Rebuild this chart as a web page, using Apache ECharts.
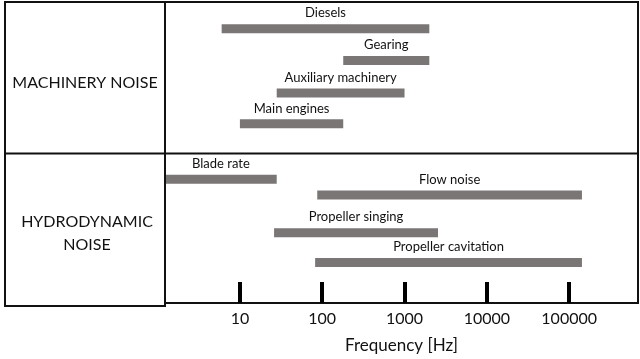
<!DOCTYPE html>
<html><head><meta charset="utf-8">
<script src="https://cdn.jsdelivr.net/npm/echarts@6/dist/echarts.min.js"></script>
<style>html,body{margin:0;padding:0;background:#fff}#c{width:640px;height:359px}</style>
</head><body><div id="c"></div>
<script>
// ---- data ----
const sources = ['Diesels','Gearing','Auxiliary machinery','Main engines','Blade rate','Flow noise','Propeller singing','Propeller cavitation'];
const lowHz  = [6, 180, 28, 10, 1.23, 87, 26, 82];
const highHz = [2000, 2000, 1000, 180, 28, 143000, 2550, 143000];
const rowLane = [1.69, 3.69, 5.75, 7.69, 11.19, 12.19, 14.56, 16.44];
const tickValues = [10, 100, 1000, 10000, 100000];
const groupLabels = ['MACHINERY NOISE', 'HYDRODYNAMIC\nNOISE'];
const axisTitle = 'Frequency [Hz]';

const FONT = 'Lato, "Open Sans", sans-serif';
const chart = echarts.init(document.getElementById('c'), null, {renderer:'canvas'});
const data = sources.map((n,i)=>[lowHz[i], highHz[i], rowLane[i]]);

chart.setOption({
  animation:false,
  grid:{left:165, right:2, top:2, height:304, show:true, borderColor:'#111', borderWidth:2, backgroundColor:'transparent'},
  xAxis:{
    type:'log', min:1.23, max:686000, logBase:10, position:'bottom',
    axisLine:{show:false, onZero:false},
    splitLine:{show:false},
    axisTick:{show:true, inside:true, length:21, lineStyle:{color:'#000', width:4}, customValues:tickValues},
    axisLabel:{customValues:tickValues, fontSize:16, color:'#111', fontFamily:FONT, margin:8, formatter:v=>String(Math.round(v))},
    name:axisTitle, nameLocation:'middle', nameGap:34,
    nameTextStyle:{fontSize:17, color:'#111', fontFamily:FONT}
  },
  yAxis:{type:'value', inverse:true, min:0, max:19, show:false},
  graphic:[
    {type:'rect', shape:{x:5, y:2, width:160, height:304}, style:{fill:'none', stroke:'#111', lineWidth:2}, z:10},
    {type:'line', shape:{x1:5, y1:153.5, x2:638, y2:153.5}, style:{stroke:'#111', lineWidth:2}, z:10},
    {type:'text', style:{text:groupLabels[0], x:85, y:83, align:'center', verticalAlign:'middle', font:'16px '+FONT, fill:'#111'}},
    {type:'text', style:{text:groupLabels[1], x:87, y:233, align:'center', verticalAlign:'middle', font:'16px '+FONT, lineHeight:23, fill:'#111'}}
  ],
  series:[{
    type:'custom',
    clip:false,
    encode:{x:[0,1], y:2},
    data:data,
    renderItem:(params, api)=>{
      const s = api.coord([api.value(0), api.value(2)]);
      const e = api.coord([api.value(1), api.value(2)]);
      const h = 9;
      return {type:'group', children:[
        {type:'rect', shape:{x:s[0], y:s[1]-h/2, width:e[0]-s[0], height:h}, style:{fill:'#7a7676'}},
        {type:'text', style:{text:sources[params.dataIndex], x:(s[0]+e[0])/2, y:s[1]-h/2-11, align:'center', verticalAlign:'middle', font:'13px '+FONT, fill:'#111'}}
      ]};
    }
  }]
});
</script></body></html>
